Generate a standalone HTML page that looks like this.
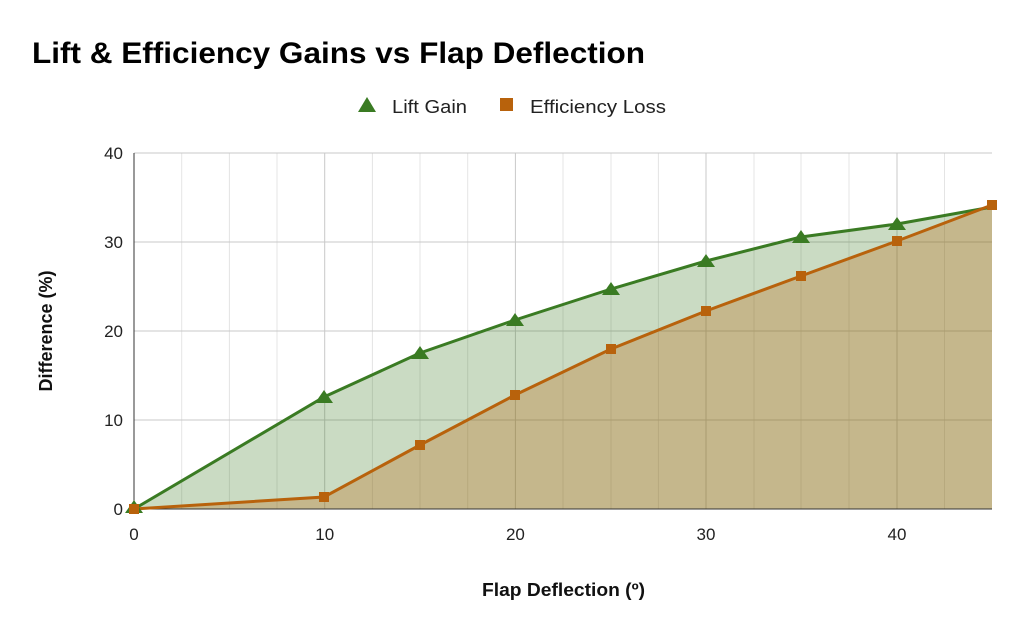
<!DOCTYPE html>
<html><head><meta charset="utf-8"><style>
body{margin:0;background:#fff;}
svg{display:block;font-family:"Liberation Sans",Arial,sans-serif;}
</style></head><body>
<svg width="1024" height="633" viewBox="0 0 1024 633">
<rect width="1024" height="633" fill="#fff"/>
<text x="32" y="63" font-size="30" font-weight="bold" fill="#000" textLength="613" lengthAdjust="spacingAndGlyphs">Lift &amp; Efficiency Gains vs Flap Deflection</text>
<polygon points="358,112 367,97 376,112" fill="#3a7b23"/>
<text x="392" y="113" font-size="18" fill="#222" textLength="75" lengthAdjust="spacingAndGlyphs">Lift Gain</text>
<rect x="500" y="98" width="13" height="13" fill="#b8620c"/>
<text x="530" y="113" font-size="18" fill="#222" textLength="136" lengthAdjust="spacingAndGlyphs">Efficiency Loss</text>
<g stroke="#e4e4e4" stroke-width="1">
<line x1="181.7" y1="153" x2="181.7" y2="509"/><line x1="229.4" y1="153" x2="229.4" y2="509"/><line x1="277" y1="153" x2="277" y2="509"/>
<line x1="372.4" y1="153" x2="372.4" y2="509"/><line x1="420" y1="153" x2="420" y2="509"/><line x1="467.7" y1="153" x2="467.7" y2="509"/>
<line x1="563" y1="153" x2="563" y2="509"/><line x1="611" y1="153" x2="611" y2="509"/><line x1="658.4" y1="153" x2="658.4" y2="509"/>
<line x1="754" y1="153" x2="754" y2="509"/><line x1="801" y1="153" x2="801" y2="509"/><line x1="849" y1="153" x2="849" y2="509"/>
<line x1="944.5" y1="153" x2="944.5" y2="509"/>
</g>
<g stroke="#c8c8c8" stroke-width="1">
<line x1="134" y1="153" x2="992" y2="153"/><line x1="134" y1="242" x2="992" y2="242"/><line x1="134" y1="331" x2="992" y2="331"/><line x1="134" y1="420" x2="992" y2="420"/>
<line x1="324.7" y1="153" x2="324.7" y2="509"/><line x1="515.4" y1="153" x2="515.4" y2="509"/><line x1="706" y1="153" x2="706" y2="509"/><line x1="897" y1="153" x2="897" y2="509"/>
</g>
<polygon points="134,509 324,397 420,353 515,320 611,289 706,261 801,237 897,224 992,207 992,509" fill="#3a7b23" fill-opacity="0.27"/>
<polygon points="134,509 324,497 420,445 515,395 611,349 706,311 801,276 897,241 992,205 992,509" fill="#b8620c" fill-opacity="0.3"/>
<line x1="134" y1="153" x2="134" y2="509" stroke="#333"/>
<line x1="134" y1="509" x2="992" y2="509" stroke="#333"/>
<polyline points="134,509 324,397 420,353 515,320 611,289 706,261 801,237 897,224 992,207" fill="none" stroke="#3a7b23" stroke-width="3"/>
<polyline points="134,509 324,497 420,445 515,395 611,349 706,311 801,276 897,241 992,205" fill="none" stroke="#b8620c" stroke-width="3"/>
<g fill="#3a7b23">
<polygon points="125,513 134,500 143,513"/><polygon points="315,403 324,390 333,403"/><polygon points="411,359 420,346 429,359"/><polygon points="506,326 515,313 524,326"/><polygon points="602,295 611,282 620,295"/><polygon points="697,267 706,254 715,267"/><polygon points="792,243 801,230 810,243"/><polygon points="888,230 897,217 906,230"/>
</g>
<g fill="#b8620c">
<rect x="129" y="504" width="10" height="10"/><rect x="319" y="492" width="10" height="10"/><rect x="415" y="440" width="10" height="10"/><rect x="510" y="390" width="10" height="10"/><rect x="606" y="344" width="10" height="10"/><rect x="701" y="306" width="10" height="10"/><rect x="796" y="271" width="10" height="10"/><rect x="892" y="236" width="10" height="10"/><rect x="987" y="200" width="10" height="10"/>
</g>
<g font-size="17" fill="#222" text-anchor="end">
<text x="123" y="159">40</text><text x="123" y="248">30</text><text x="123" y="337">20</text><text x="123" y="426">10</text><text x="123" y="515">0</text>
</g>
<g font-size="17" fill="#222" text-anchor="middle">
<text x="134" y="540">0</text><text x="324.7" y="540">10</text><text x="515.4" y="540">20</text><text x="706" y="540">30</text><text x="897" y="540">40</text>
</g>
<text x="482" y="596" font-size="18" font-weight="bold" fill="#111" textLength="163" lengthAdjust="spacingAndGlyphs">Flap Deflection (º)</text>
<text transform="translate(52,331) rotate(-90)" font-size="18" font-weight="bold" text-anchor="middle" fill="#111">Difference (%)</text>
</svg>
</body></html>
